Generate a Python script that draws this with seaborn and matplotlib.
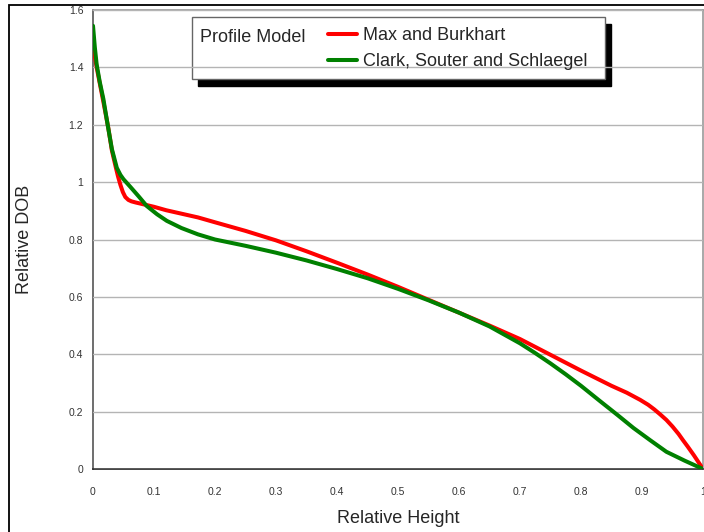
import numpy as np
import pandas as pd
import matplotlib
matplotlib.use("Agg")
import matplotlib.pyplot as plt
from matplotlib.patches import Rectangle
from matplotlib.ticker import MultipleLocator, FuncFormatter
import seaborn as sns

# Datos
mb_height = [0, 0.006, 0.017, 0.025, 0.031, 0.037, 0.041, 0.045, 0.049, 0.053, 0.058,
             0.063, 0.07, 0.078, 0.088, 0.1, 0.12, 0.145, 0.172,
             0.2, 0.25, 0.3, 0.35, 0.4, 0.45, 0.5, 0.55, 0.6, 0.65, 0.7, 0.75,
             0.8, 0.85, 0.875, 0.897, 0.91, 0.92, 0.93, 0.94, 0.95, 0.96, 0.967,
             0.975, 0.985, 0.99, 1.0]
mb_dob = [1.477, 1.40, 1.28, 1.19, 1.11, 1.055, 1.02, 0.99, 0.965, 0.948, 0.938,
          0.933, 0.929, 0.925, 0.92, 0.914, 0.902, 0.89, 0.877,
          0.86, 0.83, 0.797, 0.759, 0.719, 0.678, 0.635, 0.59, 0.545, 0.50, 0.453, 0.398,
          0.343, 0.29, 0.266, 0.241, 0.224, 0.208, 0.19, 0.171, 0.148, 0.122, 0.101,
          0.078, 0.048, 0.032, 0.0]

csh_height = [0, 0.003, 0.006, 0.011, 0.017, 0.024, 0.031, 0.039, 0.045, 0.05, 0.061,
              0.075, 0.088, 0.105, 0.121, 0.145, 0.172, 0.2, 0.25, 0.3, 0.35, 0.4,
              0.45, 0.5, 0.55, 0.6, 0.65, 0.7, 0.725, 0.75, 0.775, 0.8, 0.831,
              0.86, 0.886, 0.913, 0.94, 0.97, 1.0]
csh_dob = [1.545, 1.47, 1.41, 1.35, 1.29, 1.20, 1.115, 1.05, 1.025, 1.01, 0.984,
           0.95, 0.917, 0.888, 0.865, 0.84, 0.818, 0.80, 0.778, 0.754, 0.727, 0.697,
           0.665, 0.628, 0.588, 0.545, 0.497, 0.438, 0.404, 0.368, 0.33, 0.29, 0.237,
           0.188, 0.143, 0.101, 0.06, 0.029, 0.0]

modelos = ["Max and Burkhart", "Clark, Souter and Schlaegel"]
colores = {"Max and Burkhart": "#ff0000", "Clark, Souter and Schlaegel": "#008000"}

df = pd.concat([
    pd.DataFrame({"altura": mb_height, "dob": mb_dob, "modelo": modelos[0]}),
    pd.DataFrame({"altura": csh_height, "dob": csh_dob, "modelo": modelos[1]}),
])

sns.set_style("white")
plt.rcParams['font.family'] = ['Liberation Sans', 'DejaVu Sans']

fig = plt.figure(figsize=(7.04, 5.32), dpi=100)
ax = fig.add_axes([93 / 704, 1 - 469 / 532, 610 / 704, 459 / 532])

sns.lineplot(data=df, x="altura", y="dob", hue="modelo", hue_order=modelos,
             palette=colores, estimator=None, sort=False, linewidth=2.9,
             ax=ax, legend=False, zorder=3)
for linea in ax.get_lines():
    linea.set_solid_joinstyle('round')
    linea.set_solid_capstyle('round')

ax.set_xlim(0, 1)
ax.set_ylim(0, 1.6)
ax.xaxis.set_major_locator(MultipleLocator(0.1))
ax.xaxis.set_minor_locator(MultipleLocator(0.02))
ax.yaxis.set_major_locator(MultipleLocator(0.2))
ax.yaxis.set_minor_locator(MultipleLocator(0.02))
fmt = FuncFormatter(lambda v, p: f"{v:g}")
ax.xaxis.set_major_formatter(fmt)
ax.yaxis.set_major_formatter(fmt)

ax.tick_params(which='major', direction='out', length=5, width=1, color='#333333',
               labelsize=7.5, labelcolor='#333333')
ax.tick_params(which='minor', direction='out', length=3, width=1, color='#333333')
ax.tick_params(axis='x', pad=8)
ax.tick_params(axis='y', pad=2)

ax.set_axisbelow(False)
ax.grid(True, axis='y', which='major', color='#b4b4b4', linewidth=1, zorder=2)
ax.grid(False, axis='x')

for lado in ['top', 'right']:
    ax.spines[lado].set_color('#9a9a9a')
    ax.spines[lado].set_linewidth(1.2)
ax.spines['left'].set_color('#555555')
ax.spines['bottom'].set_color('#222222')
ax.spines['left'].set_linewidth(1.2)
ax.spines['bottom'].set_linewidth(1.2)

ax.set_xlabel("Relative Height", fontsize=13)
ax.set_ylabel("Relative DOB", fontsize=13)
ax.xaxis.set_label_coords(0.5, -0.089)
ax.yaxis.set_label_coords(-0.098, 0.5)

# Caja de la leyenda con sombra
ax.add_patch(Rectangle((0.1623 + 0.0098, 0.850 - 0.015), 0.677, 0.135,
                       transform=ax.transAxes, facecolor='black', edgecolor='black',
                       zorder=1))
ax.add_patch(Rectangle((0.1623, 0.850), 0.677, 0.135, transform=ax.transAxes,
                       facecolor='white', edgecolor='#666666', linewidth=1, zorder=1.5))
ax.text(0.1754, 0.941, "Profile Model", transform=ax.transAxes, fontsize=13,
        va='center', ha='left', zorder=4)

handles = [plt.Line2D([], [], color=colores[m], linewidth=2.9) for m in modelos]
ax.legend(handles, modelos, loc='upper left', bbox_to_anchor=(0.385, 0.962),
          frameon=False, fontsize=13, handlelength=1.6, handletextpad=0.35,
          labelspacing=0.5, borderpad=0, borderaxespad=0)

# Marco exterior
fig.add_artist(Rectangle((9 / 704, -0.1), 1.2, 0.1 + 1 - 5 / 532,
                         transform=fig.transFigure, fill=False,
                         edgecolor='black', linewidth=1.3))

plt.savefig('out.png', dpi=100)
